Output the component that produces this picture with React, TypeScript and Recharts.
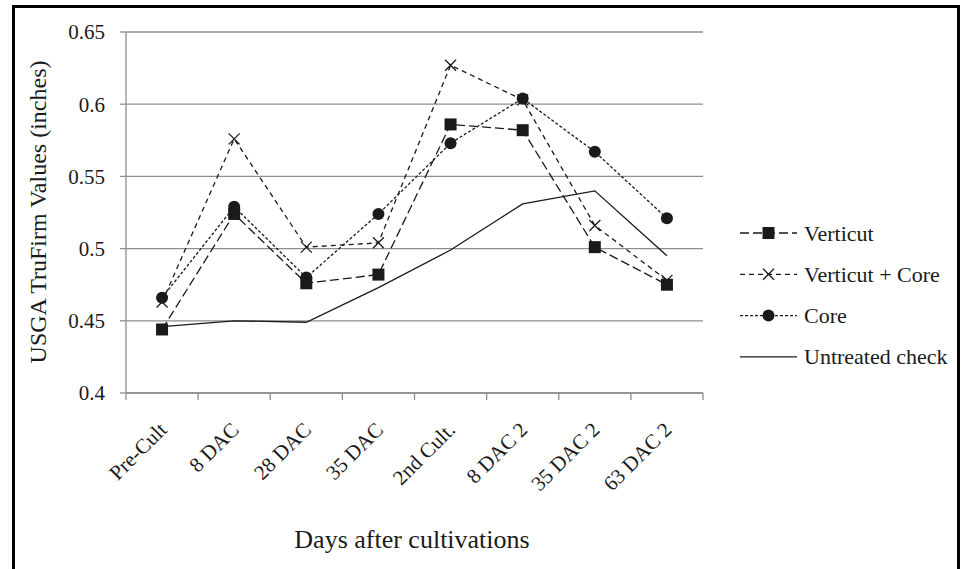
import React from "react";
import { LineChart, Line, XAxis, YAxis, CartesianGrid, Legend } from "recharts";

const categories = ["Pre-Cult", "8 DAC", "28 DAC", "35 DAC", "2nd Cult.", "8 DAC 2", "35 DAC 2", "63 DAC 2"];
const verticut = [0.444, 0.524, 0.476, 0.482, 0.586, 0.582, 0.501, 0.475];
const verticutCore = [0.463, 0.576, 0.501, 0.504, 0.627, 0.603, 0.516, 0.478];
const core = [0.466, 0.529, 0.48, 0.524, 0.573, 0.604, 0.567, 0.521];
const untreated = [0.446, 0.45, 0.449, 0.473, 0.499, 0.531, 0.54, 0.495];
const yTicks = [0.4, 0.45, 0.5, 0.55, 0.6, 0.65];

const W = 962;
const H = 569;
const PLOT_LEFT = 126;
const PLOT_RIGHT = 703;
const PLOT_TOP = 32;
const PLOT_BOTTOM = 393;
const BAND = (PLOT_RIGHT - PLOT_LEFT) / categories.length;
const GRAY = "#8e8e8e";
const INK = "#1a1a1a";
const FONT = '"Liberation Serif", "Times New Roman", serif';

const rows = categories.map((c, i) => ({
  cat: c,
  verticut: verticut[i],
  vc: verticutCore[i],
  core: core[i],
  untreated: untreated[i],
}));

type Kind = "square" | "cross" | "circle" | "none";

const series: { key: string; name: string; dash?: string; marker: Kind }[] = [
  { key: "verticut", name: "Verticut", dash: "9 4", marker: "square" },
  { key: "vc", name: "Verticut + Core", dash: "5 4", marker: "cross" },
  { key: "core", name: "Core", dash: "3 2", marker: "circle" },
  { key: "untreated", name: "Untreated check", marker: "none" },
];

function Marker({ kind, cx, cy }: { kind: Kind; cx?: number; cy?: number }) {
  if (cx == null || cy == null || kind === "none") return <g />;
  if (kind === "square") return <rect x={cx - 6} y={cy - 6} width={12} height={12} fill={INK} />;
  if (kind === "circle") return <circle cx={cx} cy={cy} r={6} fill={INK} />;
  const s = 5.5;
  return (
    <path
      d={`M${cx - s},${cy - s}L${cx + s},${cy + s}M${cx + s},${cy - s}L${cx - s},${cy + s}`}
      stroke={INK}
      strokeWidth={1.3}
      fill="none"
    />
  );
}

function XTick(props: any) {
  const { x, payload, index } = props;
  const y0 = PLOT_BOTTOM;
  const ax = x + 6;
  const ay = y0 + 38;
  return (
    <g>
      <line x1={x - BAND / 2} x2={x - BAND / 2} y1={y0} y2={y0 + 7} stroke={GRAY} strokeWidth={1.3} />
      {index === categories.length - 1 && (
        <line x1={x + BAND / 2} x2={x + BAND / 2} y1={y0} y2={y0 + 7} stroke={GRAY} strokeWidth={1.3} />
      )}
      <text
        x={ax}
        y={ay}
        transform={`rotate(-45 ${ax} ${ay})`}
        textAnchor="end"
        fontSize={21}
        fontFamily={FONT}
        fill={INK}
      >
        {payload.value}
      </text>
    </g>
  );
}

function YTitle() {
  const x = 38;
  const y = 212;
  return (
    <text
      x={x}
      y={y}
      transform={`rotate(-90 ${x} ${y})`}
      textAnchor="middle"
      dominantBaseline="central"
      fontSize={24}
      fontFamily={FONT}
      fill={INK}
    >
      USGA TruFirm Values (inches)
    </text>
  );
}

function XTitle() {
  return (
    <text x={412} y={548} textAnchor="middle" fontSize={26} fontFamily={FONT} fill={INK}>
      Days after cultivations
    </text>
  );
}

function LegendBox() {
  return (
    <svg width={230} height={170} style={{ display: "block" }}>
      {series.map((s, i) => {
        const cy = 23 + i * 41.3;
        return (
          <g key={s.key}>
            <line x1={5} x2={62} y1={cy} y2={cy} stroke={INK} strokeWidth={1.3} strokeDasharray={s.dash} />
            <Marker kind={s.marker} cx={33.5} cy={cy} />
            <text x={69} y={cy} dominantBaseline="central" fontSize={22} fontFamily={FONT} fill={INK}>
              {s.name}
            </text>
          </g>
        );
      })}
    </svg>
  );
}

// draw order: crosses under circles, circles under squares, solid line on top
const drawOrder = ["vc", "core", "verticut", "untreated"];

export default function App() {
  return (
    <div style={{ position: "absolute", left: 0, top: 0, width: W, height: H, overflow: "hidden", background: "#fff" }}>
      <div
        style={{
          position: "absolute",
          left: 12,
          top: 5,
          width: 942,
          height: 620,
          border: "3px solid #000",
          borderBottom: "none",
        }}
      />
      <div style={{ position: "absolute", left: 0, top: 0 }}>
        <LineChart
          width={W}
          height={H}
          data={rows}
          margin={{ top: PLOT_TOP, right: W - PLOT_RIGHT, bottom: 0, left: 0 }}
        >
          <CartesianGrid vertical={false} stroke={GRAY} strokeWidth={1.3} />
          <XAxis
            dataKey="cat"
            interval={0}
            height={H - PLOT_BOTTOM}
            padding={{ left: BAND / 2, right: BAND / 2 }}
            axisLine={{ stroke: GRAY, strokeWidth: 1.3 }}
            tickLine={false}
            tickSize={0}
            tickMargin={0}
            tick={<XTick />}
            label={<XTitle />}
          />
          <YAxis
            type="number"
            domain={[0.4, 0.65]}
            ticks={yTicks}
            interval={0}
            width={PLOT_LEFT}
            axisLine={{ stroke: GRAY, strokeWidth: 1.3 }}
            tickLine={{ stroke: GRAY, strokeWidth: 1.3 }}
            tickSize={6}
            tickMargin={15}
            tickFormatter={(v: number) => String(Number(v.toFixed(2)))}
            tick={{ fontSize: 21, fontFamily: FONT, fill: INK }}
            label={<YTitle />}
          />
          <Legend
            layout="horizontal"
            verticalAlign="middle"
            align="center"
            content={() => <LegendBox />}
            wrapperStyle={{ left: 735, top: 210, width: 230, height: 170 }}
          />
          {drawOrder.map((k) => {
            const s = series.find((q) => q.key === k)!;
            return (
              <Line
                key={s.key}
                dataKey={s.key}
                name={s.name}
                type="linear"
                stroke={INK}
                strokeWidth={1.3}
                strokeDasharray={s.dash}
                dot={(p: any) => <Marker key={`${s.key}-${p.index}`} kind={s.marker} cx={p.cx} cy={p.cy} />}
                activeDot={false}
                isAnimationActive={false}
              />
            );
          })}
        </LineChart>
      </div>
    </div>
  );
}
